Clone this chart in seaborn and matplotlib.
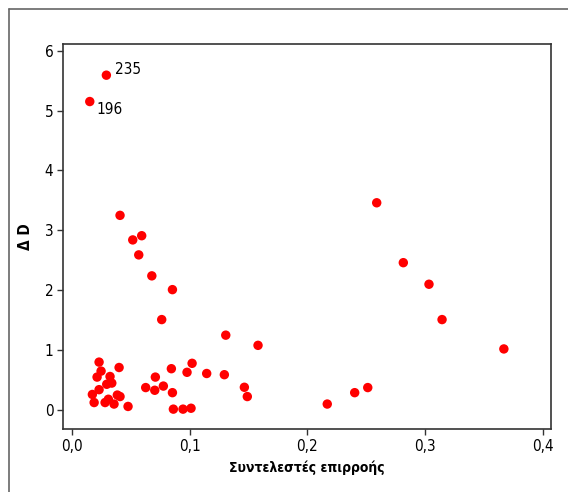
import numpy as np
import pandas as pd
import seaborn as sns
import matplotlib
matplotlib.use('Agg')
import matplotlib.pyplot as plt
from matplotlib.lines import Line2D

# influence coefficients (x) and Delta D (y)
influence = [0.0294, 0.0153,
             0.041, 0.0518, 0.0594, 0.0569, 0.068, 0.0855, 0.0764, 0.1308, 0.1582,
             0.0232, 0.0249, 0.0215, 0.0325, 0.0402, 0.034, 0.0297, 0.0232, 0.0175,
             0.019, 0.0283, 0.0311, 0.0359, 0.0387, 0.041, 0.0478, 0.0628, 0.0705,
             0.071, 0.0778, 0.0846, 0.0855, 0.0863, 0.0945, 0.1013, 0.0979, 0.1022,
             0.1146, 0.1296, 0.1466, 0.1491,
             0.259, 0.2816, 0.3034, 0.3145, 0.367, 0.217, 0.2403, 0.2514]
delta_d = [5.59, 5.15,
           3.25, 2.84, 2.91, 2.59, 2.24, 2.01, 1.51, 1.25, 1.08,
           0.80, 0.65, 0.55, 0.56, 0.71, 0.45, 0.43, 0.34, 0.26,
           0.125, 0.125, 0.18, 0.10, 0.25, 0.225, 0.06, 0.375, 0.33,
           0.55, 0.40, 0.69, 0.29, 0.015, 0.015, 0.03, 0.63, 0.78,
           0.61, 0.59, 0.38, 0.225,
           3.46, 2.46, 2.10, 1.51, 1.02, 0.10, 0.29, 0.375]

labels = ['235', '196']
label_offsets = [(6, 4), (5, -6)]

xticks = [0.0, 0.1, 0.2, 0.3, 0.4]
xtick_labels = ['0,0', '0,1', '0,2', '0,3', '0,4']
yticks = [0, 1, 2, 3, 4, 5, 6]

df = pd.DataFrame({'x': influence, 'y': delta_d})

sns.set_style('white')
plt.rcParams['font.family'] = ['DejaVu Sans']
plt.rcParams['font.stretch'] = 'condensed'
plt.rcParams['text.color'] = 'black'

fig = plt.figure(figsize=(5.68, 4.92), dpi=100)
ax = fig.add_axes([0.111, 0.128, 0.859, 0.7825])

sns.scatterplot(data=df, x='x', y='y', ax=ax, color='#ff0000', s=46,
                edgecolor='none', linewidth=0, legend=False)

for i, lab in enumerate(labels):
    ax.annotate(lab, (influence[i], delta_d[i]), xytext=label_offsets[i],
                textcoords='offset points', fontsize=11, va='center', ha='left',
                color='black')

ax.set_xlim(-0.0074, 0.407)
ax.set_ylim(-0.317, 6.11)
ax.set_xticks(xticks)
ax.set_xticklabels(xtick_labels)
ax.set_yticks(yticks)
ax.tick_params(axis='both', which='major', direction='out', length=4, width=1,
               color='#333333', labelcolor='black', labelsize=11, pad=3,
               bottom=True, left=True)

for sp in ax.spines.values():
    sp.set_color('#333333')
    sp.set_linewidth(1.2)

ax.set_xlabel('Συντελεστές επιρροής', fontsize=10, fontweight='bold', labelpad=5,
              color='black')
ax.set_ylabel('Δ D', fontsize=11, fontweight='bold', labelpad=8, color='black')

# outer frame (only top and left edges fall inside the picture)
fig.add_artist(Line2D([9 / 568, 1.0], [1 - 9 / 492, 1 - 9 / 492],
                      transform=fig.transFigure, color='#666666', lw=1.2))
fig.add_artist(Line2D([9 / 568, 9 / 568], [0.0, 1 - 9 / 492],
                      transform=fig.transFigure, color='#666666', lw=1.2))

fig.savefig('out.png', dpi=100)
